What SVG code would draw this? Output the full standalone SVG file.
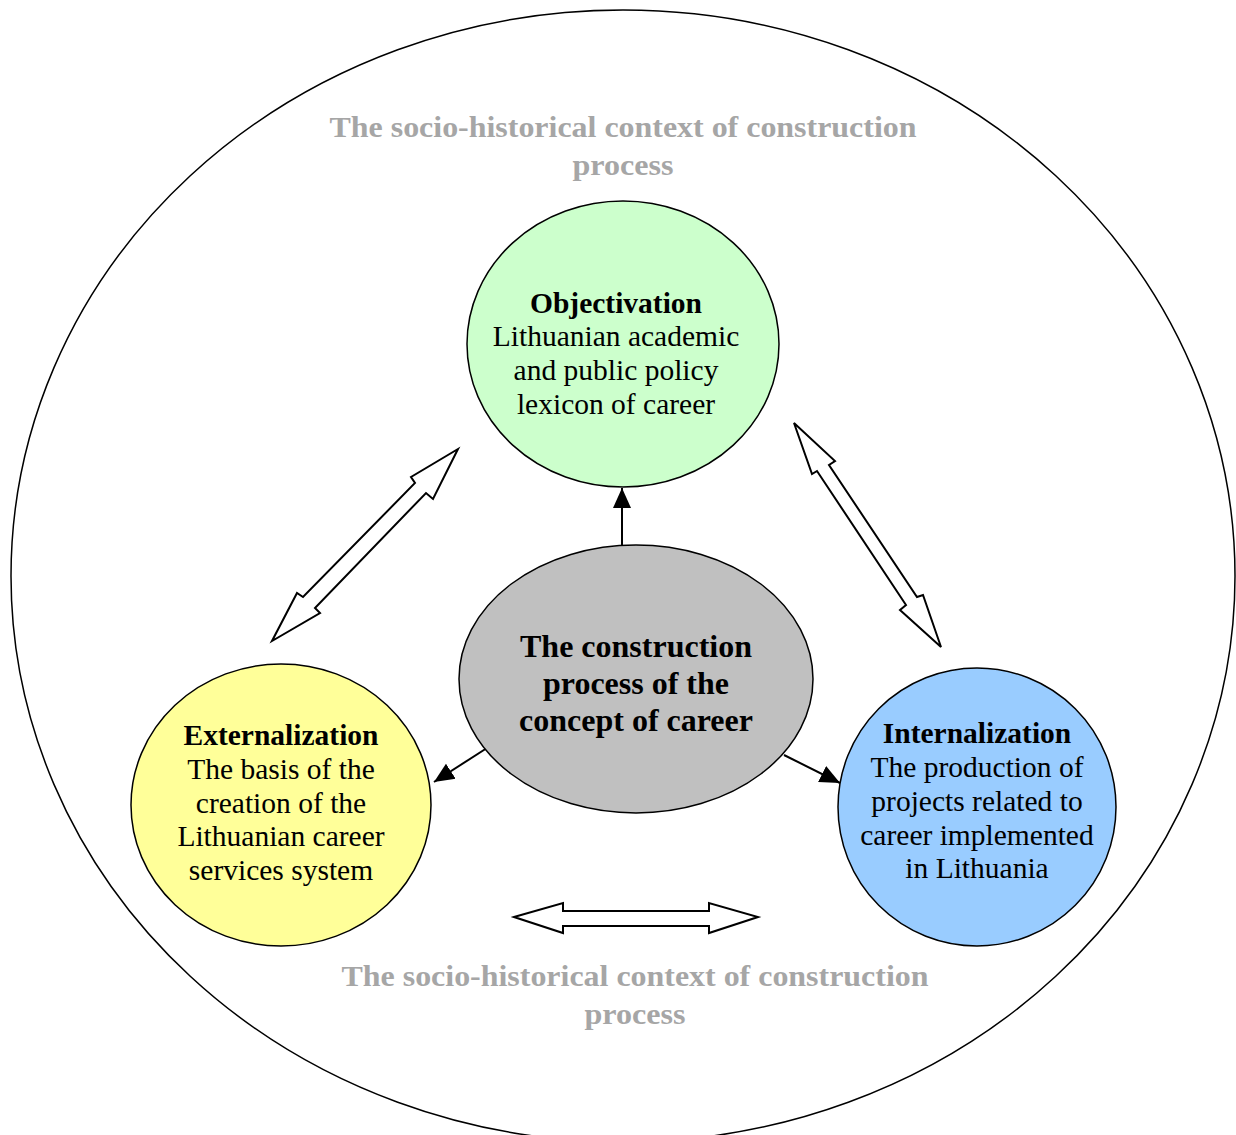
<svg xmlns="http://www.w3.org/2000/svg" width="1236" height="1135" viewBox="0 0 1236 1135">
<defs>
<style>
.ol{fill:none;stroke:#000;stroke-width:1.5}
.nd{stroke:#000;stroke-width:1.5}
.ctx{font-family:"Liberation Serif",serif;font-weight:bold;font-size:30px;fill:#a6a6a6;text-anchor:middle}
.t{font-family:"Liberation Serif",serif;font-size:29.5px;fill:#000;text-anchor:middle}
.b{font-weight:bold}
.ct{font-family:"Liberation Serif",serif;font-weight:bold;font-size:32px;fill:#000;text-anchor:middle}
.blk{fill:#fff;stroke:#000;stroke-width:2;stroke-linejoin:miter}
.ln{stroke:#000;stroke-width:2;fill:none}
</style>
<marker id="ahb" markerWidth="20" markerHeight="20" refX="20" refY="10" orient="auto" markerUnits="userSpaceOnUse" viewBox="0 0 20 20">
<path d="M0,1 L20,10 L0,19 z" fill="#000"/>
</marker>
</defs>
<rect width="1236" height="1135" fill="#fff"/>
<g id="context">
<ellipse class="ol" cx="623" cy="576" rx="612" ry="566"/>
<text class="ctx" x="623" y="137" textLength="587" lengthAdjust="spacingAndGlyphs">The socio-historical context of construction</text>
<text class="ctx" x="623" y="175" textLength="101" lengthAdjust="spacingAndGlyphs">process</text>
<text class="ctx" x="635" y="986" textLength="587" lengthAdjust="spacingAndGlyphs">The socio-historical context of construction</text>
<text class="ctx" x="635" y="1024" textLength="101" lengthAdjust="spacingAndGlyphs">process</text>
</g>
<g id="connectors">
<line class="ln" x1="622" y1="545" x2="622" y2="488" marker-end="url(#ahb)"/>
<line class="ln" x1="487" y1="748" x2="434" y2="782" marker-end="url(#ahb)"/>
<line class="ln" x1="784" y1="755" x2="840" y2="783" marker-end="url(#ahb)"/>
<polygon class="blk" points="458,449 433,499 426,493 315,608 320,613 272,641 297,593 303,597 415,483 411,477"/>
<polygon class="blk" points="794,423 835,461 829,465 917,597 923,595 941,647 900,610 906,605 817,471 812,474"/>
<polygon class="blk" points="514,917 563,903 563,911 709,911 709,903 758,917 709,933 709,926 563,926 563,933"/>
</g>
<g id="objectivation">
<ellipse class="nd" cx="623" cy="344" rx="156" ry="143" fill="#ccffcc"/>
<text class="t b" x="616" y="313">Objectivation</text>
<text class="t" x="616" y="346">Lithuanian academic</text>
<text class="t" x="616" y="380">and public policy</text>
<text class="t" x="616" y="414">lexicon of career</text>
</g>
<g id="center">
<ellipse class="nd" cx="636" cy="679" rx="177" ry="134" fill="#c0c0c0"/>
<text class="ct" x="636" y="657">The construction</text>
<text class="ct" x="636" y="694">process of the</text>
<text class="ct" x="636" y="731">concept of career</text>
</g>
<g id="externalization">
<ellipse class="nd" cx="281" cy="805" rx="150" ry="141" fill="#ffff99"/>
<text class="t b" x="281" y="745">Externalization</text>
<text class="t" x="281" y="779">The basis of the</text>
<text class="t" x="281" y="813">creation of the</text>
<text class="t" x="281" y="846">Lithuanian career</text>
<text class="t" x="281" y="880">services system</text>
</g>
<g id="internalization">
<ellipse class="nd" cx="977" cy="807" rx="139" ry="139" fill="#99ccff"/>
<text class="t b" x="977" y="743">Internalization</text>
<text class="t" x="977" y="777">The production of</text>
<text class="t" x="977" y="811">projects related to</text>
<text class="t" x="977" y="845">career implemented</text>
<text class="t" x="977" y="878">in Lithuania</text>
</g>
</svg>
